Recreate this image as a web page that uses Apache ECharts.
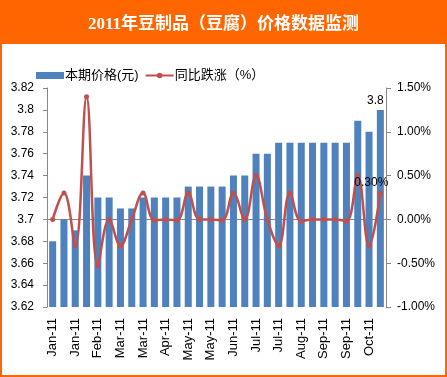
<!DOCTYPE html>
<html>
<head>
<meta charset="utf-8">
<script src="https://cdn.jsdelivr.net/npm/echarts@6/dist/echarts.min.js"></script>
<style>
  html, body { margin: 0; padding: 0; background: #fff; }
  #main { width: 447px; height: 377px; }
</style>
</head>
<body>
<div id="main"></div>
<script>
// 30 periods: 3 per month (上/中/下旬), Jan..Oct 2011
var categories = [
  'Jan-11', 'Jan-11', 'Jan-11', 'Feb-11', 'Feb-11', 'Feb-11',
  'Mar-11', 'Mar-11', 'Mar-11', 'Apr-11', 'Apr-11', 'Apr-11',
  'May-11', 'May-11', 'May-11', 'Jun-11', 'Jun-11', 'Jun-11',
  'Jul-11', 'Jul-11', 'Jul-11', 'Aug-11', 'Aug-11', 'Aug-11',
  'Sep-11', 'Sep-11', 'Sep-11', 'Oct-11', 'Oct-11', 'Oct-11'
];
// 本期价格(元)
var priceValues = [
  3.68, 3.70, 3.69, 3.74, 3.72, 3.72, 3.71, 3.71, 3.72, 3.72,
  3.72, 3.72, 3.73, 3.73, 3.73, 3.73, 3.74, 3.74, 3.76, 3.76,
  3.77, 3.77, 3.77, 3.77, 3.77, 3.77, 3.77, 3.79, 3.78, 3.80
];
// 同比跌涨（%）
var changeValues = [
  0.00, 0.30, -0.30, 1.40, -0.53, 0.00, -0.30, 0.00, 0.30, -0.01,
  0.00, -0.01, 0.30, 0.00, 0.00, -0.01, 0.30, 0.00, 0.50, 0.00,
  -0.30, 0.30, -0.02, 0.00, 0.00, 0.00, -0.02, 0.50, -0.30, 0.30
];

var orange = '#FF6600';
var fontFamily = '"Liberation Sans", "Noto Sans CJK SC", sans-serif';
var last = priceValues.length - 1;

var chart = echarts.init(document.getElementById('main'));
var option = {
  backgroundColor: '#fff',
  animation: false,
  textStyle: { fontFamily: fontFamily },
  graphic: [
    { type: 'rect', z: -10, shape: { x: 0, y: 0, width: 447, height: 44 }, style: { fill: orange } },
    { type: 'rect', z: -10, shape: { x: 1, y: 1, width: 445, height: 375 }, style: { fill: null, stroke: orange, lineWidth: 2 } }
  ],
  title: {
    text: '2011年豆制品（豆腐）价格数据监测',
    left: 'center',
    top: 11,
    textStyle: {
      color: '#fff',
      fontSize: 17,
      fontWeight: 'bold',
      fontFamily: '"Liberation Serif", "Noto Sans CJK SC", serif'
    }
  },
  legend: {
    left: 31,
    top: 64,
    itemGap: 6,
    itemWidth: 28,
    itemHeight: 7,
    textStyle: { fontSize: 13, color: '#000', padding: [0, 0, 0, -4] },
    data: [
      { name: '本期价格(元)', icon: 'rect' },
      { name: '同比跌涨（%）' }
    ]
  },
  grid: { left: 47, right: 61, top: 88, bottom: 70, containLabel: false },
  xAxis: {
    type: 'category',
    data: categories,
    boundaryGap: true,
    axisLine: { lineStyle: { color: '#888' } },
    axisTick: { interval: 0, length: 6, lineStyle: { color: '#888' } },
    axisLabel: { interval: 1, rotate: 90, fontSize: 13, color: '#000', margin: 11 }
  },
  yAxis: [
    {
      type: 'value',
      min: 3.62,
      max: 3.82,
      interval: 0.02,
      splitLine: { show: false },
      axisLine: { show: true, lineStyle: { color: '#888' } },
      axisTick: { show: true, length: 4, lineStyle: { color: '#888' } },
      axisLabel: {
        fontSize: 12, color: '#000', margin: 13,
        formatter: function (v) { return String(+v.toFixed(2)); }
      }
    },
    {
      type: 'value',
      min: -1,
      max: 1.5,
      interval: 0.5,
      splitLine: { show: false },
      axisLine: { show: true, lineStyle: { color: '#888' } },
      axisTick: { show: true, length: 5, lineStyle: { color: '#888' } },
      axisLabel: {
        fontSize: 12, color: '#000', margin: 11,
        formatter: function (v) { return v.toFixed(2) + '%'; }
      }
    }
  ],
  series: [
    {
      name: '本期价格(元)',
      type: 'bar',
      yAxisIndex: 0,
      barWidth: '62%',
      itemStyle: { color: '#4F81BD' },
      data: priceValues.map(function (v, i) {
        return i === last
          ? { value: v, label: { show: true, position: 'top', distance: 3, offset: [-5, 0], color: '#000', fontSize: 12 } }
          : v;
      })
    },
    {
      name: '同比跌涨（%）',
      type: 'line',
      yAxisIndex: 1,
      smooth: 0.4,
      symbol: 'circle',
      symbolSize: 5,
      lineStyle: { color: '#C0504D', width: 2.5 },
      itemStyle: { color: '#C0504D' },
      data: changeValues.map(function (v, i) {
        return i === last
          ? { value: v, label: { show: true, position: 'top', offset: [-9, 2], distance: 4, color: '#000', fontSize: 12,
              formatter: function (p) { return p.value.toFixed(2) + '%'; } } }
          : v;
      })
    }
  ]
};
chart.setOption(option);
window.onresize = chart.resize;
</script>
</body>
</html>
